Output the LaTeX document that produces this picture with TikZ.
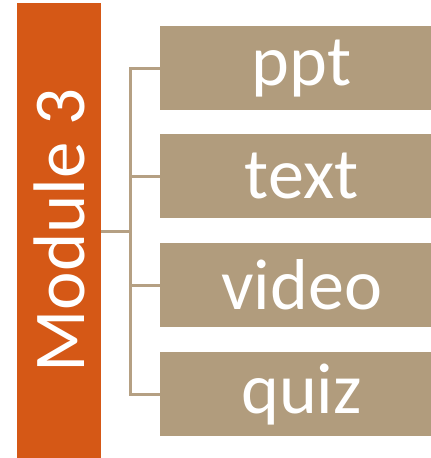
\documentclass[tikz,border=0pt]{standalone}
\usepackage{fontspec}
\setmainfont{Carlito}
\definecolor{modorange}{HTML}{D55816}
\definecolor{tan}{HTML}{B19C7D}
\definecolor{linetan}{HTML}{B5A083}
\tikzset{
  itembox/.style={fill=tan, draw=none, minimum width=271pt, minimum height=84pt, inner sep=0pt, anchor=north west},
  itemtext/.style={text=white, font=\fontsize{72}{72}\selectfont, inner sep=0pt},
  modbar/.style={fill=modorange, draw=none, minimum width=84pt, minimum height=455pt, inner sep=0pt, anchor=north west},
  conn/.style={draw=linetan, line width=3pt}
}
\begin{document}
\begin{tikzpicture}[x=1pt,y=-1pt]
\useasboundingbox (0,0) rectangle (431,458);
\node[modbar] (mod) at (17,3) {};
\node[rotate=90, text=white, font=\fontsize{73}{73}\selectfont] (modtext) at (mod.center) {Module 3};
\node[itembox] (b1) at (160,26) {};
\node[itembox] (b2) at (160,134) {};
\node[itembox] (b3) at (160,243) {};
\node[itembox] (b4) at (160,352) {};
\node[itemtext, xshift=6pt] (t1) at (b1.center) {ppt};
\node[itemtext, xshift=6pt] (t2) at (b2.center) {text};
\node[itemtext, xshift=6pt] (t3) at (b3.center) {video};
\node[itemtext, xshift=6pt] (t4) at (b4.center) {quiz};
\coordinate (jx) at (130,231);
\draw[conn] (mod.east |- jx) -- (jx);
\draw[conn] (b1.west) -- (b1.west -| jx) -- (b4.west -| jx) -- (b4.west);
\draw[conn] (b2.west -| jx) -- (b2.west);
\draw[conn] (b3.west -| jx) -- (b3.west);
\end{tikzpicture}
\end{document}
